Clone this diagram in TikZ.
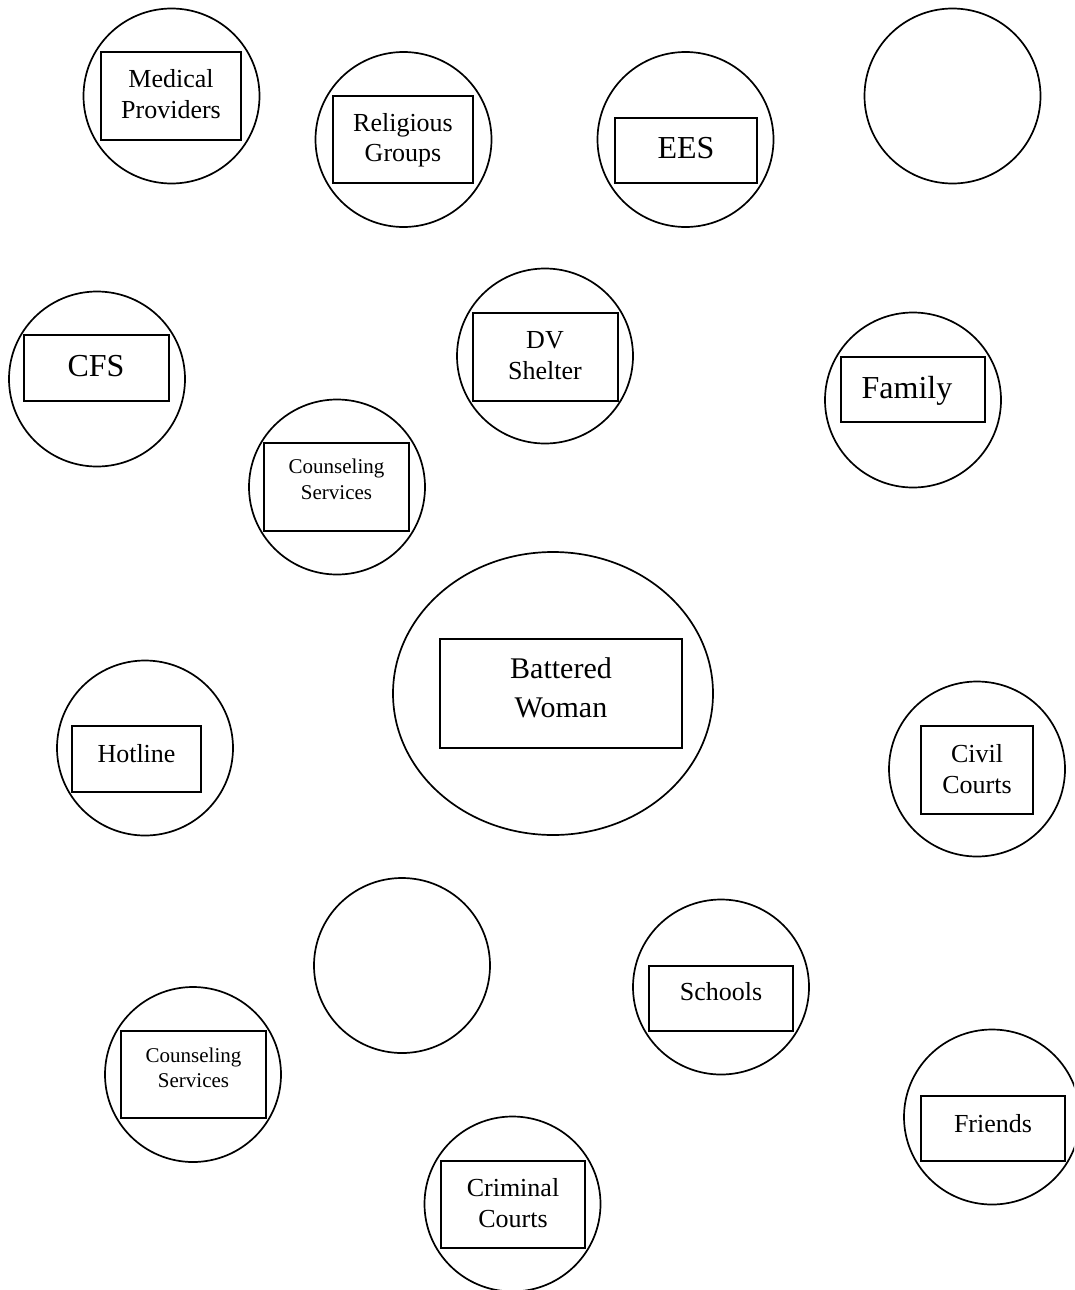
\documentclass[tikz,border=0pt]{standalone}
\usepackage{fontspec}
\setmainfont{Liberation Serif}
\usetikzlibrary{shapes.geometric}
\tikzset{
  ring/.style={draw, line width=1.7pt, ellipse, inner sep=0pt, minimum width=176pt, minimum height=175pt},
  rbox/.style={draw, line width=2.2pt, rectangle, inner sep=0pt},
  txt/.style={anchor=base, inner sep=0pt, font=\fontsize{26}{30}\selectfont},
  smalltxt/.style={anchor=base, inner sep=0pt, font=\fontsize{21}{25}\selectfont},
  bigtxt/.style={anchor=base, inner sep=0pt, font=\fontsize{32}{38}\selectfont},
  bwtxt/.style={anchor=base, inner sep=0pt, font=\fontsize{30}{39}\selectfont}
}
\begin{document}
\begin{tikzpicture}[x=1pt, y=-1pt]
\useasboundingbox (0,0) rectangle (1074,1290);
\clip (0,0) rectangle (1074,1290);

% Medical Providers
\node[ring] (medC) at (171.5,96) {};
\node[rbox, minimum width=140pt, minimum height=88pt] (medR) at (171,96) {};
\node[txt] (medT1) at (171,88) {Medical};
\node[txt] (medT2) at (171,118) {Providers};

% Religious Groups
\node[ring] (relC) at (403.5,139.5) {};
\node[rbox, minimum width=140pt, minimum height=87pt] (relR) at (403,139.5) {};
\node[txt] (relT1) at (403,131) {Religious};
\node[txt] (relT2) at (403,161) {Groups};

% EES
\node[ring] (eesC) at (685.5,139.5) {};
\node[rbox, minimum width=142pt, minimum height=65pt] (eesR) at (686,150.5) {};
\node[bigtxt] (eesT) at (686,158) {EES};

% empty top right
\node[ring] (emptyA) at (952.5,96) {};

% CFS
\node[ring] (cfsC) at (97,379) {};
\node[rbox, minimum width=145pt, minimum height=66pt] (cfsR) at (96.5,368) {};
\node[bigtxt] (cfsT) at (96,376) {CFS};

% DV Shelter
\node[ring] (dvC) at (545,356) {};
\node[rbox, minimum width=145pt, minimum height=88pt] (dvR) at (545.5,357) {};
\node[txt] (dvT1) at (545,348) {DV};
\node[txt] (dvT2) at (545,379) {Shelter};

% Family
\node[ring] (famC) at (913,400) {};
\node[rbox, minimum width=144pt, minimum height=65pt] (famR) at (913,389.5) {};
\node[bigtxt] (famT) at (907,398) {Family};

% Counseling Services (upper)
\node[ring] (couAC) at (337,487) {};
\node[rbox, minimum width=145pt, minimum height=88pt] (couAR) at (336.5,487) {};
\node[smalltxt] (couAT1) at (336.5,473) {Counseling};
\node[smalltxt] (couAT2) at (336.5,499) {Services};

% Battered Woman
\node[draw, line width=1.7pt, ellipse, inner sep=0pt, minimum width=320pt, minimum height=283pt] (bwC) at (553,693.5) {};
\node[rbox, minimum width=242pt, minimum height=109pt] (bwR) at (561,693.5) {};
\node[bwtxt] (bwT1) at (561,678) {Battered};
\node[bwtxt] (bwT2) at (561,717) {Woman};

% Hotline
\node[ring] (hotC) at (145,748) {};
\node[rbox, minimum width=129pt, minimum height=66pt] (hotR) at (136.5,759) {};
\node[txt] (hotT) at (136.5,762) {Hotline};

% Civil Courts
\node[ring] (civC) at (977,769) {};
\node[rbox, minimum width=112pt, minimum height=88pt] (civR) at (977,770) {};
\node[txt] (civT1) at (977,762) {Civil};
\node[txt] (civT2) at (977,793) {Courts};

% empty lower middle
\node[ring] (emptyB) at (402,965.5) {};

% Schools
\node[ring] (schC) at (721,987) {};
\node[rbox, minimum width=144pt, minimum height=65pt] (schR) at (721,998.5) {};
\node[txt] (schT) at (721,1000) {Schools};

% Counseling Services (lower)
\node[ring] (couBC) at (193,1074.5) {};
\node[rbox, minimum width=145pt, minimum height=87pt] (couBR) at (193.5,1074.5) {};
\node[smalltxt] (couBT1) at (193.5,1062) {Counseling};
\node[smalltxt] (couBT2) at (193.5,1087) {Services};

% Friends
\node[ring] (friC) at (992,1117) {};
\node[rbox, minimum width=144pt, minimum height=65pt] (friR) at (993,1128.5) {};
\node[txt] (friT) at (993,1132) {Friends};

% Criminal Courts
\node[ring] (criC) at (512.5,1204) {};
\node[rbox, minimum width=144pt, minimum height=87pt] (criR) at (513,1204.5) {};
\node[txt] (criT1) at (513,1196) {Criminal};
\node[txt] (criT2) at (513,1227) {Courts};
\end{tikzpicture}
\end{document}
